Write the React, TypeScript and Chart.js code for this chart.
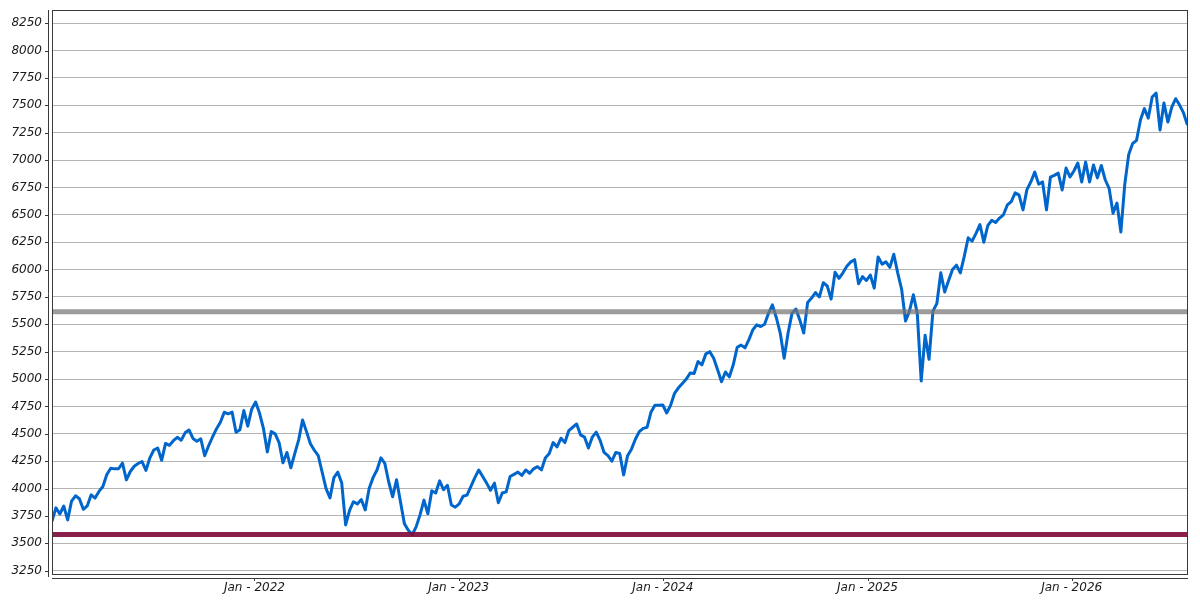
import React, { useEffect, useRef } from 'react';
import { Chart, registerables } from 'chart.js';

Chart.register(...registerables);

// Weekly samples starting on this date (one value per week)
const START_DATE = '2021-01-04';

const values2021 = [3700, 3824, 3768, 3841, 3714, 3886, 3934, 3907, 3811, 3842, 3943, 3913, 3974, 4019, 4128, 4185, 4180, 4181, 4232, 4080, 4156, 4204, 4229, 4247, 4166, 4281, 4352, 4370, 4258, 4412, 4395, 4437, 4468, 4442, 4509, 4535, 4458, 4433, 4455, 4300, 4391, 4471, 4545, 4605, 4697, 4683, 4698, 4515, 4538, 4712, 4570, 4725];
const values2022 = [4790, 4690, 4550, 4335, 4520, 4500, 4420, 4235, 4330, 4190, 4320, 4445, 4627, 4520, 4410, 4350, 4300, 4150, 4000, 3915, 4100, 4150, 4050, 3668, 3800, 3880, 3860, 3900, 3805, 4000, 4100, 4170, 4280, 4230, 4060, 3925, 4080, 3880, 3680, 3620, 3580, 3650, 3760, 3895, 3770, 3980, 3960, 4070, 3990, 4030, 3850, 3830];
const values2023 = [3860, 3930, 3940, 4020, 4100, 4170, 4110, 4050, 3985, 4050, 3870, 3960, 3970, 4110, 4130, 4150, 4120, 4170, 4140, 4180, 4200, 4170, 4280, 4320, 4420, 4380, 4460, 4420, 4530, 4560, 4590, 4490, 4470, 4370, 4470, 4515, 4440, 4330, 4300, 4250, 4330, 4320, 4125, 4300, 4360, 4450, 4520, 4550, 4560, 4700, 4760, 4760];
const values2024 = [4763, 4690, 4760, 4870, 4920, 4960, 5000, 5055, 5050, 5160, 5130, 5230, 5250, 5190, 5085, 4975, 5065, 5020, 5130, 5290, 5310, 5285, 5360, 5450, 5495, 5480, 5500, 5600, 5677, 5560, 5420, 5190, 5420, 5600, 5640, 5540, 5420, 5700, 5740, 5790, 5750, 5880, 5850, 5730, 5975, 5920, 5970, 6030, 6070, 6090, 5870, 5935];
const values2025 = [5900, 5950, 5830, 6115, 6050, 6070, 6020, 6140, 5970, 5820, 5530, 5620, 5770, 5600, 4982, 5400, 5180, 5620, 5690, 5970, 5795, 5900, 6000, 6040, 5970, 6120, 6290, 6260, 6330, 6410, 6250, 6400, 6450, 6430, 6470, 6500, 6590, 6620, 6700, 6680, 6545, 6730, 6800, 6890, 6780, 6800, 6545, 6843, 6860, 6880, 6727, 6927];
const values2026 = [6846, 6900, 6973, 6800, 6982, 6800, 6955, 6837, 6950, 6820, 6740, 6515, 6607, 6343, 6780, 7050, 7150, 7180, 7365, 7470, 7383, 7575, 7612, 7274, 7520, 7347, 7484, 7560, 7502, 7430, 7320];

const xTickDates = ['2022-01-01', '2023-01-01', '2024-01-01', '2025-01-01', '2026-01-01'];
const xTickLabels = ['Jan - 2022', 'Jan - 2023', 'Jan - 2024', 'Jan - 2025', 'Jan - 2026'];

const redLevel = 3580;
const grayLevel = 5615;

const yMin = 3220;
const yMax = 8370;
const yStep = 250;

const DAY = 86400000;
const toMs = (s: string) => Date.parse(s + 'T00:00:00Z');

const allValues = [...values2021, ...values2022, ...values2023, ...values2024, ...values2025, ...values2026];
const startMs = toMs(START_DATE);
const points = allValues.map((v, i) => ({ x: startMs + i * 7 * DAY, y: v }));
const xMin = startMs;
const xMax = startMs + (allValues.length - 1) * 7 * DAY + DAY;

const framePlugin = {
  id: 'frame',
  afterDraw(chart: any) {
    const { ctx, chartArea: a, scales } = chart;
    ctx.save();
    ctx.strokeStyle = '#3a3a3a';
    ctx.lineWidth = 1;
    // plot box
    ctx.strokeRect(a.left + 0.5, a.top + 0.5, a.right - a.left - 1, a.bottom - a.top);
    // offset y axis line
    ctx.beginPath();
    ctx.moveTo(a.left - 3.5, a.top);
    ctx.lineTo(a.left - 3.5, a.bottom + 3);
    ctx.stroke();
    // offset x axis line
    ctx.beginPath();
    ctx.moveTo(a.left, a.bottom + 4.5);
    ctx.lineTo(a.right, a.bottom + 4.5);
    ctx.stroke();
    // y tick marks
    const ys = scales.y;
    ys.ticks.forEach((t: any) => {
      const py = Math.round(ys.getPixelForValue(t.value)) + 0.5;
      ctx.beginPath();
      ctx.moveTo(a.left - 7, py);
      ctx.lineTo(a.left - 3, py);
      ctx.stroke();
    });
    // x tick marks
    const xs = scales.x;
    xs.ticks.forEach((t: any) => {
      const px = Math.round(xs.getPixelForValue(t.value)) + 0.5;
      ctx.beginPath();
      ctx.moveTo(px, a.bottom + 4);
      ctx.lineTo(px, a.bottom + 7);
      ctx.stroke();
    });
    ctx.restore();
  },
};

const tickFont = { family: 'DejaVu Sans', size: 12, style: 'italic' as const };

export default function App() {
  const canvasRef = useRef<HTMLCanvasElement | null>(null);

  useEffect(() => {
    document.body.style.margin = '0';
    const canvas = canvasRef.current;
    if (!canvas) return;
    const chart = new Chart(canvas, {
      type: 'line',
      data: {
        datasets: [
          {
            label: 'low',
            data: [{ x: xMin, y: redLevel }, { x: xMax, y: redLevel }],
            borderColor: 'rgba(128,12,60,0.92)',
            borderWidth: 5,
            pointRadius: 0,
            order: 0,
          },
          {
            label: 'level',
            data: [{ x: xMin, y: grayLevel }, { x: xMax, y: grayLevel }],
            borderColor: 'rgba(118,118,118,0.72)',
            borderWidth: 5,
            pointRadius: 0,
            order: 1,
          },
          {
            label: 'index',
            data: points,
            borderColor: '#0066cc',
            borderWidth: 3,
            pointRadius: 0,
            tension: 0,
            borderJoinStyle: 'round',
            order: 2,
          },
        ],
      },
      options: {
        animation: false,
        responsive: false,
        events: [],
        layout: { padding: { top: 10, right: 12, left: 0, bottom: 0 } },
        plugins: {
          legend: { display: false },
          tooltip: { enabled: false },
        },
        scales: {
          x: {
            type: 'linear',
            min: xMin,
            max: xMax,
            afterFit(scale: any) {
              scale.height = 26;
            },
            afterBuildTicks(scale: any) {
              scale.ticks = xTickDates.map((d) => ({ value: toMs(d) }));
            },
            ticks: {
              autoSkip: false,
              maxRotation: 0,
              padding: 7,
              color: '#1a1a1a',
              font: tickFont,
              callback: (v: any) => {
                const idx = xTickDates.findIndex((d) => toMs(d) === v);
                return idx >= 0 ? xTickLabels[idx] : '';
              },
            },
            grid: { display: false, drawTicks: false },
            border: { display: false },
          },
          y: {
            type: 'linear',
            min: yMin,
            max: yMax,
            afterFit(scale: any) {
              scale.width = 52;
              scale.paddingTop = 0;
              scale.paddingBottom = 0;
            },
            ticks: {
              stepSize: yStep,
              includeBounds: false,
              padding: 10,
              color: '#1a1a1a',
              font: tickFont,
              callback: (v: any) => String(v),
            },
            grid: { color: '#b4b4b4', lineWidth: 1, drawTicks: false },
            border: { display: false },
          },
        },
      },
      plugins: [framePlugin],
    } as any);
    return () => chart.destroy();
  }, []);

  return (
    <div style={{ width: 1200, height: 600, background: '#fff' }}>
      <canvas ref={canvasRef} width={1200} height={600} style={{ display: 'block' }} />
    </div>
  );
}
